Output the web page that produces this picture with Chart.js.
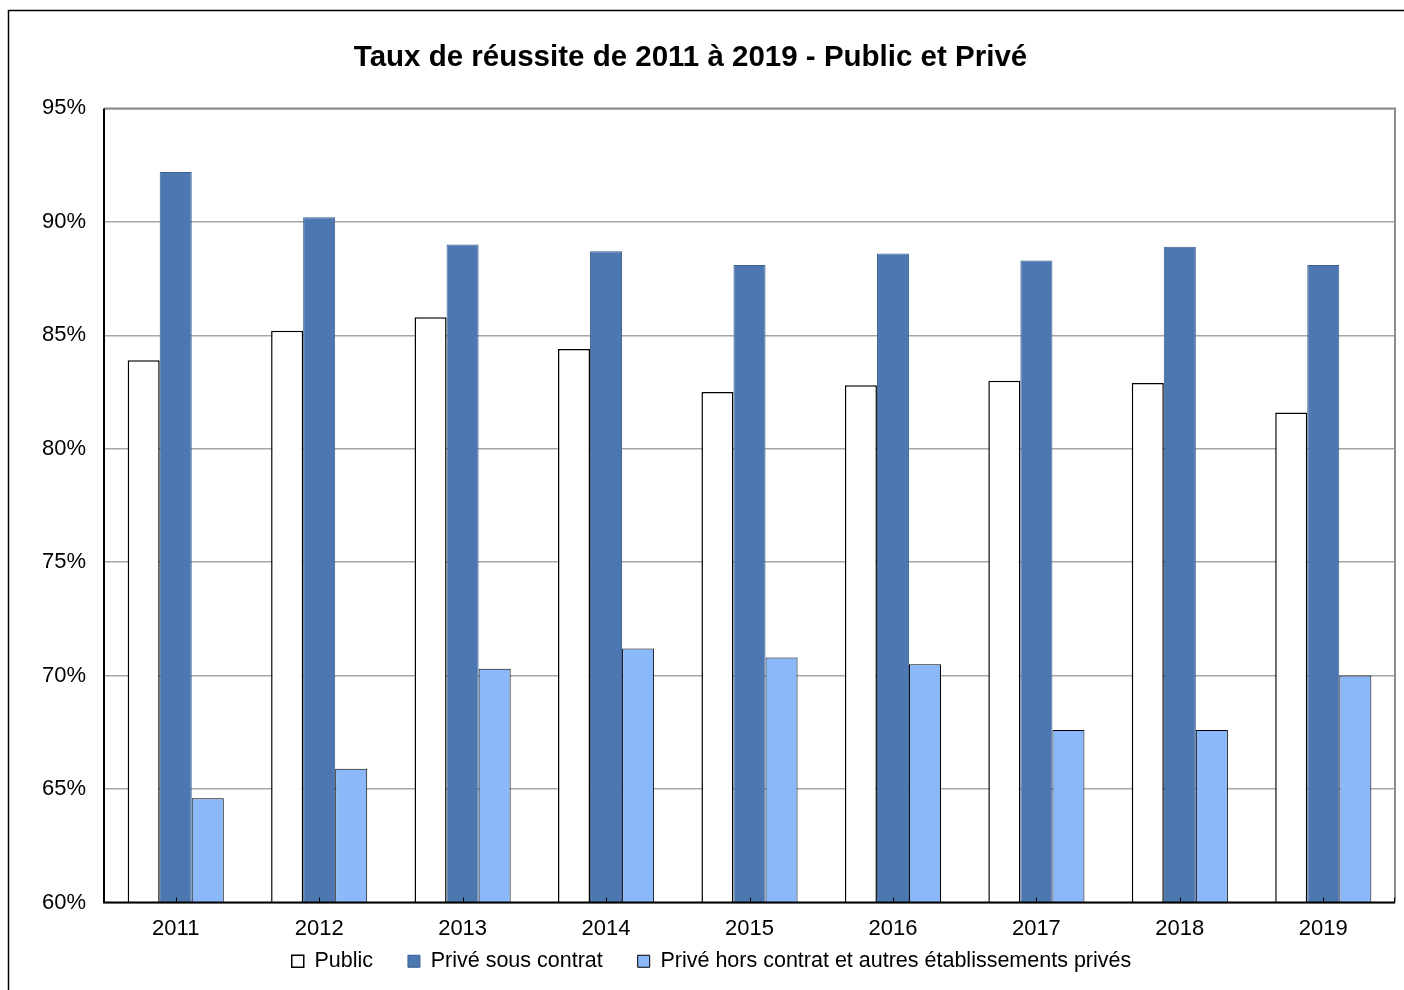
<!DOCTYPE html>
<html>
<head>
<meta charset="utf-8">
<script src="https://cdn.jsdelivr.net/npm/chart.js@4.4.1/dist/chart.umd.min.js"></script>
<style>
  html, body { margin: 0; padding: 0; background: #fff; }
  #wrap { width: 1404px; height: 990px; }
</style>
</head>
<body>
<div id="wrap"><canvas id="myChart" width="1404" height="990"></canvas></div>
<script>
const years = ['2011', '2012', '2013', '2014', '2015', '2016', '2017', '2018', '2019']
const publicRates = [83.9, 85.2, 85.8, 84.4, 82.5, 82.8, 83.0, 82.9, 81.6]
const priveSousContrat = [92.2, 90.2, 89.0, 88.7, 88.1, 88.6, 88.3, 88.9, 88.1]
const priveHorsContrat = [64.6, 65.9, 70.3, 71.2, 70.8, 70.5, 67.6, 67.6, 70.0]
const yTicks = [60, 65, 70, 75, 80, 85, 90, 95]

Chart.defaults.font.family = '"Liberation Sans", Arial, sans-serif'
Chart.defaults.color = '#000'

// outer frame, plot area border and small x ticks
const frame = {
    id: 'frame',
    afterLayout(chart) {
        // nudge title a bit left and legend a bit right, like the original
        chart.titleBlock.left -= 7
        chart.titleBlock.right -= 7
        chart.legend.left += 14
        chart.legend.right += 14
    },
    beforeDraw(chart) {
        const c = chart.ctx
        c.save()
        c.strokeStyle = '#000'
        c.lineWidth = 1.5
        c.beginPath()
        c.moveTo(8.5, chart.height)
        c.lineTo(8.5, 10.5)
        c.lineTo(chart.width, 10.5)
        c.stroke()
        c.restore()
    },
    afterDatasetsDraw(chart) {
        const a = chart.chartArea
        const c = chart.ctx
        const xs = chart.scales.x
        c.save()
        c.strokeStyle = '#8c8c8c'
        c.lineWidth = 2
        c.beginPath()
        c.moveTo(a.left, a.top)
        c.lineTo(a.right, a.top)
        c.lineTo(a.right, a.bottom)
        c.stroke()
        c.strokeStyle = '#000'
        c.lineWidth = 2
        c.beginPath()
        c.moveTo(a.left, a.top)
        c.lineTo(a.left, a.bottom)
        c.lineTo(a.right, a.bottom)
        c.stroke()
        c.lineWidth = 1
        c.beginPath()
        for (let i = 0; i < years.length; i++) {
            const x = Math.round(xs.getPixelForTick(i)) + 0.5
            c.moveTo(x, a.bottom)
            c.lineTo(x, a.bottom - 5)
        }
        c.moveTo(a.right - 0.5, a.bottom)
        c.lineTo(a.right - 0.5, a.bottom - 5)
        c.stroke()
        c.restore()
    }
}

// wider gaps between legend items without extra vertical padding
const legendLabels = (chart) => {
    const items = Chart.defaults.plugins.legend.labels.generateLabels(chart)
    return items.map((it, i) => {
        if (i < items.length - 1) it.text = it.text + '    '
        return it
    })
}

const ctx = document.querySelector('#myChart').getContext('2d')

const rateChart = new Chart(ctx, {
    type: 'bar',
    data: {
        labels: years,
        datasets: [{
            label: 'Public',
            data: publicRates,
            backgroundColor: '#ffffff',
            borderColor: '#000000',
            borderWidth: 1.5
        }, {
            label: 'Privé sous contrat',
            data: priveSousContrat,
            backgroundColor: '#4c77b0',
            borderColor: '#3a5f90',
            borderWidth: 1
        }, {
            label: 'Privé hors contrat et autres établissements privés',
            data: priveHorsContrat,
            backgroundColor: '#8ab8f8',
            borderColor: '#000000',
            borderWidth: 1
        }]
    },
    options: {
        responsive: false,
        animation: false,
        layout: { padding: { left: 0, right: 9, top: 0, bottom: 8 } },
        datasets: { bar: { categoryPercentage: 0.67, barPercentage: 1 } },
        scales: {
            x: {
                afterFit: (s) => { s.height = 37 },
                grid: { display: false },
                border: { display: false },
                ticks: { font: { size: 22 }, padding: 5 }
            },
            y: {
                min: 60,
                max: 95,
                afterFit: (s) => { s.width = 104 },
                afterBuildTicks: (s) => { s.ticks = yTicks.map(v => ({ value: v })) },
                grid: { color: '#a6a6a6', lineWidth: 1.5, drawTicks: false },
                border: { display: false },
                ticks: { font: { size: 22 }, padding: 18, callback: (v) => v + '%' }
            }
        },
        plugins: {
            title: {
                display: true,
                text: 'Taux de réussite de 2011 à 2019 - Public et Privé',
                font: { size: 29.5, weight: 'bold' },
                color: '#000',
                padding: { top: 40, bottom: 33 }
            },
            legend: {
                position: 'bottom',
                labels: {
                    font: { size: 21.5 },
                    boxWidth: 12,
                    boxHeight: 12,
                    padding: 11,
                    color: '#000',
                    generateLabels: legendLabels
                }
            },
            tooltip: { enabled: false }
        }
    },
    plugins: [frame]
})
</script>
</body>
</html>
